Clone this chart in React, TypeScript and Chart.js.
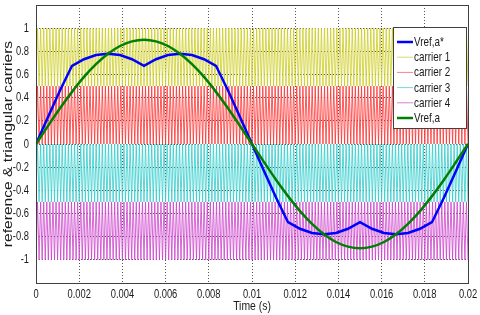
import React, { useEffect, useRef } from 'react';
import { Chart, registerables } from 'chart.js';

Chart.register(...registerables);

// Sample times (s)
const timeS = [
  0, 0.000556, 0.001111, 0.001667, 0.002222, 0.002778, 0.003333, 0.003889, 0.004444, 0.005,
  0.005556, 0.006111, 0.006667, 0.007222, 0.007778, 0.008333, 0.008889, 0.009444, 0.01,
  0.010556, 0.011111, 0.011667, 0.012222, 0.012778, 0.013333, 0.013889, 0.014444, 0.015,
  0.015556, 0.016111, 0.016667, 0.017222, 0.017778, 0.018333, 0.018889, 0.019444, 0.02,
];

// Vref,a* (blue, modified reference)
const vrefAStar = [
  0, 0.234, 0.462, 0.675, 0.732, 0.768, 0.779, 0.768, 0.732, 0.675,
  0.732, 0.768, 0.779, 0.768, 0.732, 0.675, 0.462, 0.234, 0,
  -0.234, -0.462, -0.675, -0.732, -0.768, -0.779, -0.768, -0.732, -0.675,
  -0.732, -0.768, -0.779, -0.768, -0.732, -0.675, -0.462, -0.234, 0,
];

// Vref,a (green, sinusoidal reference)
const vrefA = [
  0, 0.156, 0.308, 0.45, 0.579, 0.689, 0.779, 0.846, 0.886, 0.9,
  0.886, 0.846, 0.779, 0.689, 0.579, 0.45, 0.308, 0.156, 0,
  -0.156, -0.308, -0.45, -0.579, -0.689, -0.779, -0.846, -0.886, -0.9,
  -0.886, -0.846, -0.779, -0.689, -0.579, -0.45, -0.308, -0.156, 0,
];

// Triangular carriers: band limits and number of cycles in the window
const carrierNames = ['carrier 1', 'carrier 2', 'carrier 3', 'carrier 4'];
const carrierLow = [0.5, 0, -0.5, -1];
const carrierHigh = [1, 0.5, 0, -0.5];
const carrierColors = ['#cccc20', '#ff3030', '#30cccc', '#cc40cc'];
const carrierLegendColors = ['#d8d878', '#ff8080', '#80d8d8', '#d880d8'];
const carrierCycles = 140;
const tEnd = 0.02;

const xTickValues = [0, 0.002, 0.004, 0.006, 0.008, 0.01, 0.012, 0.014, 0.016, 0.018, 0.02];
const xTickLabels = ['0', '0.002', '0.004', '0.006', '0.008', '0.01', '0.012', '0.014', '0.016', '0.018', '0.02'];
const yTickValues = [-1, -0.8, -0.6, -0.4, -0.2, 0, 0.2, 0.4, 0.6, 0.8, 1];
const yTickLabels = ['-1', '-0.8', '-0.6', '-0.4', '-0.2', '0', '0.2', '0.4', '0.6', '0.8', '1'];
const yTitle = 'reference & triangular carriers';
const xTitle = 'Time (s)';

const FONT = "'Liberation Sans', Arial, sans-serif";
const TEXT = '#1a1a1a';

function drawText(ctx: CanvasRenderingContext2D, text: string, x: number, y: number, size: number, sx: number, align: CanvasTextAlign) {
  ctx.save();
  ctx.translate(x, y);
  ctx.scale(sx, 1);
  ctx.font = `${size}px ${FONT}`;
  ctx.fillStyle = TEXT;
  ctx.textAlign = align;
  ctx.textBaseline = 'middle';
  ctx.fillText(text, 0, 0);
  ctx.restore();
}

export default function App() {
  const ref = useRef<HTMLCanvasElement | null>(null);

  useEffect(() => {
    const canvas = ref.current;
    if (!canvas) return;

    const carrierSets = carrierNames.map((name, i) => {
      const pts: { x: number; y: number }[] = [];
      const n = carrierCycles * 2;
      for (let k = 0; k <= n; k++) {
        pts.push({ x: (k * tEnd) / n, y: k % 2 === 0 ? carrierLow[i] : carrierHigh[i] });
      }
      return {
        label: name,
        data: pts,
        borderColor: carrierColors[i],
        borderWidth: 0.8,
        pointRadius: 0,
        order: 3,
      };
    });

    const legendItems = [
      { label: 'Vref,a*', color: '#0000ff', width: 2.5 },
      ...carrierNames.map((n, i) => ({ label: n, color: carrierLegendColors[i], width: 1 })),
      { label: 'Vref,a', color: '#008000', width: 2.5 },
    ];

    const framePlugin = {
      id: 'frameAndLegend',
      afterDraw(chart: any) {
        const { ctx, chartArea } = chart;
        const xs = chart.scales.x;
        const ys = chart.scales.y;
        ctx.save();
        ctx.strokeStyle = '#404040';
        ctx.lineWidth = 1;
        ctx.strokeRect(
          Math.round(chartArea.left) + 0.5,
          Math.round(chartArea.top) + 0.5,
          Math.round(chartArea.right - chartArea.left),
          Math.round(chartArea.bottom - chartArea.top)
        );
        // tick labels
        xTickValues.forEach((v, i) => {
          drawText(ctx, xTickLabels[i], xs.getPixelForValue(v), chartArea.bottom + 11, 13, 0.72, 'center');
        });
        yTickValues.forEach((v, i) => {
          drawText(ctx, yTickLabels[i], chartArea.left - 7, ys.getPixelForValue(v), 13, 0.72, 'right');
        });
        // axis titles
        drawText(ctx, xTitle, (chartArea.left + chartArea.right) / 2, chartArea.bottom + 23, 13, 0.8, 'center');
        ctx.save();
        ctx.translate(8, (chartArea.top + chartArea.bottom) / 2);
        ctx.rotate(-Math.PI / 2);
        ctx.scale(1.2, 1);
        ctx.font = `13px ${FONT}`;
        ctx.fillStyle = TEXT;
        ctx.textAlign = 'center';
        ctx.textBaseline = 'middle';
        ctx.fillText(yTitle, 0, 0);
        ctx.restore();
        // legend box
        const lx = 393, ly = 27, lw = 73, lh = 101;
        ctx.fillStyle = '#ffffff';
        ctx.fillRect(lx, ly, lw, lh);
        ctx.strokeStyle = '#404040';
        ctx.lineWidth = 1;
        ctx.strokeRect(lx + 0.5, ly + 0.5, lw, lh);
        legendItems.forEach((it, i) => {
          const y = 42 + i * 15.2;
          ctx.strokeStyle = it.color;
          ctx.lineWidth = it.width;
          ctx.beginPath();
          ctx.moveTo(397, y);
          ctx.lineTo(413, y);
          ctx.stroke();
          drawText(ctx, it.label, 414, y + 0.5, 13, 0.76, 'left');
        });
        ctx.restore();
      },
    };

    const chart = new Chart(canvas, {
      type: 'line',
      data: {
        datasets: [
          {
            label: 'Vref,a*',
            data: timeS.map((t, i) => ({ x: t, y: vrefAStar[i] })),
            borderColor: '#0000ff',
            borderWidth: 2.5,
            pointRadius: 0,
            order: 1,
          },
          ...carrierSets,
          {
            label: 'Vref,a',
            data: timeS.map((t, i) => ({ x: t, y: vrefA[i] })),
            borderColor: '#008000',
            borderWidth: 2.5,
            pointRadius: 0,
            cubicInterpolationMode: 'monotone',
            order: 0,
          },
        ] as any,
      },
      options: {
        animation: false,
        responsive: false,
        events: [],
        layout: { padding: { top: 5, right: 12, left: 0, bottom: 0 } },
        plugins: {
          legend: { display: false },
          tooltip: { enabled: false },
        },
        scales: {
          x: {
            type: 'linear',
            min: 0,
            max: 0.02,
            afterBuildTicks: (s: any) => {
              s.ticks = xTickValues.map((v) => ({ value: v }));
            },
            afterFit: (s: any) => {
              s.height = 32;
              s.paddingLeft = 0;
              s.paddingRight = 0;
            },
            ticks: { display: false, autoSkip: false },
            grid: { color: '#555', lineWidth: 1, drawTicks: false },
            border: { display: false, dash: [1, 2] },
            title: { display: false },
          },
          y: {
            type: 'linear',
            min: -1.2,
            max: 1.2,
            afterBuildTicks: (s: any) => {
              s.ticks = yTickValues.map((v) => ({ value: v }));
            },
            afterFit: (s: any) => {
              s.width = 36;
              s.paddingTop = 0;
              s.paddingBottom = 0;
            },
            ticks: { display: false, autoSkip: false },
            grid: { color: '#555', lineWidth: 1, drawTicks: false },
            border: { display: false, dash: [1, 2] },
            title: { display: false },
          },
        },
      } as any,
      plugins: [framePlugin],
    });

    return () => chart.destroy();
  }, []);

  return (
    <div style={{ position: 'fixed', left: 0, top: 0, width: 480, height: 315, background: '#fff' }}>
      <canvas ref={ref} width={480} height={315} style={{ display: 'block', width: 480, height: 315 }} />
    </div>
  );
}
